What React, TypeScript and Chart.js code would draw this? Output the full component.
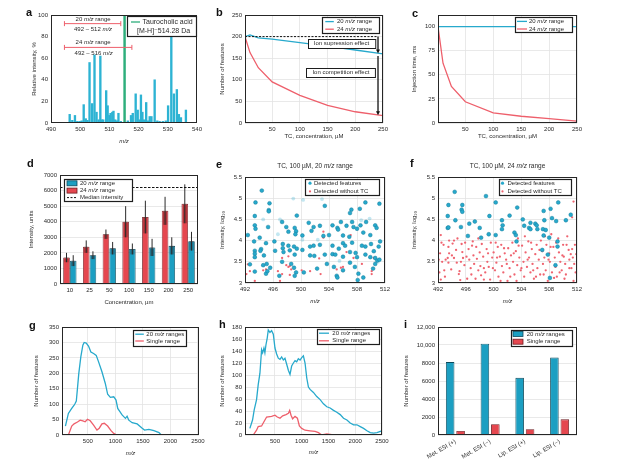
import React, { useEffect, useRef } from 'react';
import { Chart, registerables } from 'chart.js';

Chart.register(...registerables);

const FONT = "'Liberation Sans', Arial, Helvetica, 'DejaVu Sans', sans-serif";
const INK = '#2a2a2a';
const GRID = '#e3e3e3';
const CYAN = '#27a9cc';
const CYAN_BAR = '#1c9fc2';
const CYAN_EDGE = '#0c4a5c';
const RED = '#ee5f6b';
const RED_BAR = '#e5474f';
const RED_EDGE = '#6e1b20';
const GREEN = '#2eae7c';

// ---------- panel a : spectrum ----------
const A_MZ = [496.4, 497.3, 498.2, 499.0, 499.8, 500.5, 501.2, 501.9, 502.5, 503.2, 504.1, 504.9, 505.6, 506.3, 506.9, 507.4, 507.9, 508.9, 509.4, 510.0, 510.4, 511.0, 511.4, 512.0, 512.6, 513.1, 513.9, 516.3, 517.4, 518.0, 519.0, 519.7, 520.3, 520.8, 521.3, 521.8, 522.6, 523.2, 523.8, 524.4, 525.5, 526.4, 527.2, 528.3, 529.3, 530.1, 531.2, 532.1, 533.1, 533.8, 534.5, 536.2];
const A_INT = [8, 2.5, 7, 1.5, 1.5, 2, 17, 4, 2.5, 56, 18, 63, 10, 3, 62, 3, 3, 30, 16, 7, 9, 10, 11, 3, 2, 9, 1.5, 2, 7, 9, 27, 12, 3, 26, 10, 3, 19, 2, 6, 6, 40, 2, 1.5, 1.5, 2, 16, 100, 27, 31, 8, 5, 12];
const A_TC_MZ = [515.2];
const A_TC_INT = [100];
const A_RANGE20_X = [494.6, 513.9];
const A_RANGE20_Y = 92;
const A_RANGE24_X = [494.6, 517.7];
const A_RANGE24_Y = 70;
const A_XTICKS = [490, 500, 510, 520, 530, 540];
const A_YTICKS = [0, 20, 40, 60, 80, 100];
const A_NOTES = [
  { x: 504.4, y: 96.5, t: '20 m/z range' },
  { x: 504.4, y: 87.3, t: '492 – 512 m/z' },
  { x: 504.4, y: 75.6, t: '24 m/z range' },
  { x: 504.6, y: 65.2, t: '492 – 516 m/z' },
];

// ---------- panel b ----------
const B_X = [1, 10, 25, 50, 100, 150, 200, 250];
const B_20 = [200, 204, 197, 194, 186, 178, 169, 160];
const B_24 = [200, 163, 128, 95, 64, 41, 26, 17];
const B_DASH_X = [1, 241];
const B_DASH_Y = 200;
const B_ARROWS = [[241, 200, 161], [241, 155, 18]];
const B_BOXES = [
  { x: 175, y: 185, t: 'Ion supression effect' },
  { x: 174, y: 118, t: 'Ion competition effect' },
];
const BC_XTICKS = [50, 100, 150, 200, 250];
const B_YTICKS = [0, 50, 100, 150, 200, 250];

// ---------- panel c ----------
const C_X = [1, 10, 25, 50, 100, 150, 200, 250];
const C_20 = [100, 100, 100, 100, 100, 100, 100, 100];
const C_24 = [100, 62, 38, 22, 10.5, 7, 4.5, 2];
const C_YTICKS = [0, 25, 50, 75, 100];

// ---------- panel d ----------
const D_CATS = ['10', '25', '50', '100', '150', '200', '250'];
const D_24 = [1700, 2400, 3200, 4000, 4300, 4700, 5150];
const D_24_ERR = [300, 400, 300, 1000, 1050, 900, 1250];
const D_20 = [1500, 1850, 2300, 2250, 2350, 2450, 2750];
const D_20_ERR = [350, 250, 400, 350, 550, 550, 600];
const D_MEDIAN = 6200;
const D_YTICKS = [0, 1000, 2000, 3000, 4000, 5000, 6000, 7000];

// ---------- panel e ----------
const EF_XTICKS = [492, 496, 500, 504, 508, 512];
const EF_YTICKS = [3, 3.5, 4, 4.5, 5, 5.5];
const E_FEAT = [[494.4,5.18],[493.5,4.9],[495.5,4.88],[493.4,4.58],[495.4,4.72],[495.4,4.69],[499.4,4.59],[503.4,4.82],[507.2,4.73],[508.4,4.75],[509.2,4.9],[511.2,4.87],[507.0,4.65],
[493.4,4.36],[493.5,4.28],[495.3,4.32],[497.3,4.44],[497.9,4.32],[499.1,4.3],[499.3,4.22],[501.1,4.42],[501.8,4.32],[501.5,4.23],[502.7,4.35],[504.5,4.36],[505.2,4.3],[505.3,4.26],[505.7,4.44],[506.5,4.35],[507.3,4.44],[507.5,4.32],[508.0,4.28],[508.5,4.36],[509.3,4.44],[510.6,4.36],[510.8,4.3],
[492.4,4.13],[494.1,4.07],[498.2,4.21],[499.2,4.15],[500.2,4.12],[503.2,4.11],[504.0,4.13],[506.0,4.12],[506.9,4.09],[508.9,4.19],[509.9,4.13],
[493.3,3.98],[495.0,3.94],[496.2,3.98],[497.4,3.92],[498.2,3.88],[499.0,3.86],[499.4,3.81],[501.3,3.86],[501.8,3.88],[502.7,3.9],[504.5,3.88],[505.4,3.81],[506.0,3.94],[506.3,3.88],[507.3,3.95],[508.7,3.88],[509.2,3.86],[510.0,3.92],[511.1,3.86],[511.3,3.98],
[493.4,3.76],[493.4,3.69],[493.4,3.61],[494.3,3.8],[494.2,3.76],[494.7,3.65],[496.3,3.76],[497.4,3.82],[497.5,3.73],[498.4,3.77],[499.1,3.67],[500.2,3.78],[501.3,3.65],[501.9,3.64],[503.4,3.67],[504.5,3.68],[504.9,3.67],[506.0,3.62],[507.0,3.73],[507.8,3.71],[508.0,3.61],[509.2,3.67],[509.9,3.61],[510.4,3.75],[510.6,3.59],[510.9,3.53],[511.2,3.55],
[492.7,3.44],[494.6,3.42],[495.1,3.45],[495.6,3.36],[497.3,3.5],[498.6,3.45],[499.0,3.36],[499.3,3.25],[499.1,3.17],[500.4,3.25],[502.3,3.34],[503.7,3.45],[504.7,3.38],[505.1,3.17],[505.2,3.13],[506.0,3.3],[507.0,3.48],[507.7,3.38],[508.2,3.22],[508.1,3.07],[508.9,3.13],[510.3,3.34],[510.6,3.45],
[493.4,3.27],[495.0,3.22],[495.2,3.28],[496.9,3.17]];
const E_FAINT = [[498.9,4.99],[500.3,4.96],[496.7,4.15],[503.0,4.98],[509.8,4.52],[500.2,4.02],[497.0,4.5],[494.6,4.5],[511.0,3.5],[505.5,3.52],[502.4,4.02],[508.6,4.48]];
const E_NOTC = [[492.4,3.44],[492.2,3.21],[492.7,3.28],[493.4,3.05],[494.6,3.3],[495.0,3.32],[496.7,3.28],[497.0,3.05],[497.3,3.21],[498.2,3.63],[498.4,3.4],[497.9,3.42],[498.2,3.38],[498.6,3.32],[498.2,3.88],[497.3,3.59],[498.4,3.19],[500.1,3.3],[501.3,3.28],[502.8,3.21],[503.2,4.07],[503.2,4.21],[505.1,3.32],[505.7,3.36],[506.0,3.28],[506.5,3.73],[507.1,4.13],[507.5,3.59],[508.2,3.21],[508.7,3.45],[510.1,3.28],[510.1,3.21],[510.4,3.59],[506.0,3.38],[502.6,3.58]];

// ---------- panel f ----------
const F_FEAT = [[494.4,5.15],[498.9,5.05],[493.5,4.84],[495.5,4.84],[500.3,4.9],[495.4,4.73],[495.5,4.68],[503.4,4.78],[493.4,4.58],[499.4,4.58],[507.2,4.7],[508.2,4.75],[509.3,4.9],[511.1,4.61],[510.4,4.48],[494.5,4.48],[497.3,4.45],[496.5,4.4],[501.2,4.48],[502.3,4.59],[504.2,4.5],[505.3,4.42],[506.0,4.4],[507.3,4.48],[508.4,4.53],[509.0,4.46],[493.4,4.3],[493.5,4.31],[495.3,4.32],[498.0,4.3],[501.3,4.36],[501.2,4.27],[504.4,4.35],[505.1,4.3],[505.3,4.27],[506.2,4.36],[506.3,4.27],[507.1,4.27],[507.5,4.25],[496.3,4.11],[498.2,4.07],[499.3,4.15],[500.3,4.13],[503.0,4.19],[503.2,4.13],[503.3,3.98],[507.2,4.12],[508.0,4.07],[509.2,3.98],[509.2,3.86],[507.0,3.78],[507.8,3.67],[508.9,3.42],[508.1,3.12]];
const F_NOTC = [[492.4,4.13],[492.3,3.7],[492.6,3.5],[492.2,3.25],[492.9,3.3],[492.4,3.08],[493.1,3.55],[493.6,4.0],[493.5,3.85],[493.6,3.7],[493.4,3.59],[493.5,3.48],[494.1,3.93],[494.3,4.0],[494.3,3.59],[494.6,3.78],[494.7,3.48],[495.0,3.21],[495.1,3.28],[495.2,3.07],[495.4,3.92],[495.5,3.73],[495.6,3.59],[495.8,3.42],[495.9,3.95],
[496.4,3.8],[496.5,3.55],[496.7,3.35],[496.8,3.2],[497.0,3.98],[497.1,3.65],[497.2,3.45],[497.4,3.1],[497.5,3.85],[497.6,3.57],[497.8,3.3],[498.0,3.72],[498.1,3.4],[498.2,3.18],[498.3,3.92],[498.5,3.62],[498.6,3.35],[498.8,3.25],[499.0,3.8],[499.1,3.5],[499.3,3.38],[499.5,3.08],[499.6,3.95],[499.8,3.6],
[500.0,3.72],[500.2,3.3],[500.4,3.48],[500.6,3.85],[500.7,3.15],[500.9,3.62],[501.1,3.9],[501.2,3.4],[501.4,3.25],[501.6,3.7],[501.8,3.55],[502.0,3.05],[502.1,3.82],[502.3,3.35],[502.5,3.65],[502.7,3.95],[502.8,3.5],[503.0,3.2],[503.2,3.75],[503.4,3.42],[503.5,4.05],[503.7,3.6],[503.9,3.3],
[504.1,3.88],[504.3,3.5],[504.4,3.15],[504.6,3.72],[504.8,3.38],[505.0,3.98],[505.1,3.6],[505.3,3.25],[505.5,3.8],[505.6,3.45],[505.8,3.1],[506.0,3.68],[506.2,3.9],[506.3,3.35],[506.5,3.55],[506.7,3.2],[506.8,4.0],[507.0,3.75],[507.1,3.45],[507.3,3.6],[507.5,3.3],[507.6,3.9],[507.8,3.05],
[508.0,3.7],[508.1,3.5],[508.3,4.15],[508.4,3.25],[508.6,3.85],[508.8,3.6],[508.9,3.38],[509.1,3.15],[509.3,4.05],[509.4,3.72],[509.6,3.5],[509.8,3.3],[510.0,3.9],[510.1,3.62],[510.3,3.45],[510.4,3.2],[510.6,4.1],[510.8,3.78],[510.9,3.55],[511.1,3.68],[511.2,3.35],[511.4,3.6],[511.5,3.05],[511.7,3.9],[511.8,3.25],[511.5,4.92],[511.3,4.55],
[492.8,3.9],[493.0,3.15],[493.9,3.32],[494.0,3.65],[494.8,4.05],[495.3,3.5],[496.1,3.62],[496.2,3.1],[496.9,3.88],[497.8,4.05],[498.6,3.08],[499.2,3.7],[499.9,3.35],[500.3,3.95],[500.5,3.6],[501.0,3.05],[501.5,3.82],[501.9,3.45],[502.4,3.15],[502.9,3.7],[503.3,3.05],[503.6,3.88],[504.0,3.35],[504.5,4.1],[504.9,3.55],[505.4,3.95],[505.7,3.3],[506.1,3.15],[506.6,3.78],[507.2,3.2],[507.4,4.1],[507.9,3.55],[508.2,3.85],[508.7,3.12],[509.0,3.95],[509.5,3.25],[509.9,3.65],[510.2,3.1],[510.5,3.9],[510.9,3.35],[511.3,3.8],[511.6,3.45],[511.9,3.68],[492.1,3.55],[492.5,3.95]];

// ---------- panel g ----------
const G_20 = [[92,29],[146,70],[207,86],[250,97],[268,102],[290,110],[311,151],[335,199],[372,253],[409,291],[433,300],[470,298],[512,288],[555,269],[604,264],[652,258],[695,237],[756,205],[817,167],[860,132],[909,122],[970,124],[1012,113],[1043,86],[1122,65],[1183,54],[1213,61],[1244,48],[1305,40],[1396,36],[1488,22],[1530,16],[1610,18],[1701,14],[1793,8],[1835,0],[2520,0]];
const G_SINGLE = [[146,0],[207,29],[250,36],[311,42],[360,48],[409,46],[451,43],[494,51],[543,46],[604,32],[665,16],[707,22],[756,36],[799,38],[860,29],[921,14],[970,5],[1030,0],[2520,0]];
const GH_XTICKS = [500, 1000, 1500, 2000, 2500];
const G_YTICKS = [0, 50, 100, 150, 200, 250, 300, 350];

// ---------- panel h ----------
const H_20 = [[31,11],[81,25],[112,42],[156,59],[187,84],[219,103],[250,142],[269,137],[294,145],[312,137],[331,150],[356,162],[375,175],[406,171],[437,174],[469,168],[500,145],[531,135],[562,128],[594,126],[625,130],[656,125],[687,128],[719,118],[750,108],[781,101],[812,115],[844,120],[875,124],[906,122],[937,127],[969,125],[1000,129],[1031,132],[1062,120],[1094,95],[1125,80],[1156,76],[1219,71],[1281,64],[1344,59],[1406,52],[1469,47],[1531,45],[1594,41],[1656,38],[1719,34],[1781,28],[1844,25],[1906,20],[1969,17],[2031,17],[2094,14],[2156,11],[2219,7],[2281,4],[2344,3],[2406,4],[2469,6],[2500,7]];
const H_SINGLE = [[94,0],[156,8],[187,14],[250,15],[294,22],[344,30],[437,31],[500,33],[544,30],[594,28],[644,32],[706,34],[750,36],[775,41],[800,33],[830,27],[875,31],[919,28],[956,15],[1000,11],[1062,8],[1156,7],[1250,6],[1312,4],[1375,0],[1469,2],[1594,0],[2500,0]];
const H_YTICKS = [0, 20, 40, 60, 80, 100, 120, 140, 160, 180];

// ---------- panel i ----------
const I_CATS = ['Met. ESI (+)', 'Met. ESI (\u2212)', 'Lip. ESI (+)', 'Lip. ESI (\u2212)'];
const I_20 = [8100, 10150, 6350, 8600];
const I_SINGLE = [450, 1200, 650, 1750];
const I_YTICKS = [0, 2000, 4000, 6000, 8000, 10000, 12000];

// ---------- layout of the nine plot boxes ----------
const SPEC: any = {
  a: { L: 51, R: 197, T: 15, B: 123, yw: 20, xh: 22, pt: 8, pr: 12 },
  b: { L: 245, R: 383, T: 15, B: 123, yw: 26, xh: 17, pt: 8, pr: 12 },
  c: { L: 438, R: 577, T: 15, B: 123, yw: 27, xh: 17, pt: 8, pr: 12 },
  d: { L: 60, R: 198, T: 175, B: 284, yw: 32, xh: 22, pt: 8, pr: 12 },
  e: { L: 245, R: 385, T: 177, B: 283, yw: 26, xh: 22, pt: 18, pr: 12 },
  f: { L: 438, R: 577, T: 177, B: 283, yw: 27, xh: 22, pt: 18, pr: 12 },
  g: { L: 62, R: 199, T: 327, B: 435, yw: 29, xh: 22, pt: 8, pr: 12 },
  h: { L: 245, R: 382, T: 327, B: 435, yw: 26, xh: 21, pt: 8, pr: 12 },
  i: { L: 438, R: 577, T: 327, B: 435, yw: 35, xh: 32, pt: 8, pr: 12 },
};
const LETTERS: [string, number, number][] = [['a', 29, 12], ['b', 219, 12], ['c', 415, 13], ['d', 30, 163], ['e', 219, 164], ['f', 413, 163], ['g', 32, 325], ['h', 222, 324], ['i', 407, 324]];

// ---------- helpers ----------
function drawRich(ctx: any, text: string, x: number, y: number, size: number, align: string, color = INK) {
  const parts = text.split(/(m\/z)/).filter((s) => s.length);
  const fonts = parts.map((p) => `${p === 'm/z' ? 'italic ' : ''}${size}px ${FONT}`);
  const widths = parts.map((p, i) => { ctx.font = fonts[i]; return ctx.measureText(p).width; });
  const total = widths.reduce((s, w) => s + w, 0);
  let cx = align === 'center' ? x - total / 2 : align === 'right' ? x - total : x;
  ctx.textAlign = 'left';
  ctx.textBaseline = 'middle';
  ctx.fillStyle = color;
  parts.forEach((p, i) => { ctx.font = fonts[i]; ctx.fillText(p, cx, y); cx += widths[i]; });
  return total;
}

function setTicks(values: number[]) {
  return (s: any) => { s.ticks = values.map((v) => ({ value: v })); };
}

function axisX(o: any) {
  const cat = o.type === 'category';
  const ax: any = {
    type: o.type || 'linear',
    position: 'bottom',
    offset: cat,
    ticks: { padding: 3, color: INK, font: { family: FONT, size: 6 }, autoSkip: false, maxRotation: o.rot || 0, minRotation: o.rot || 0 },
    grid: { display: !!o.grid, color: GRID, lineWidth: 0.8, drawTicks: false, offset: false },
    border: { display: false },
    title: { display: !!o.title, text: o.title || '', color: INK, padding: 0, font: { family: FONT, size: 6, style: o.italic ? 'italic' : 'normal' } },
    afterFit: (s: any) => { s.height = o.h; },
  };
  if (!cat) {
    ax.min = o.min; ax.max = o.max;
    ax.ticks.callback = (v: number) => String(v);
    ax.afterBuildTicks = setTicks(o.ticks);
  }
  return ax;
}

function axisY(o: any) {
  return {
    type: 'linear',
    position: 'left',
    min: o.min, max: o.max,
    ticks: { padding: 3, color: INK, font: { family: FONT, size: 6 }, callback: o.fmt || ((v: number) => String(v)) },
    grid: { display: !!o.grid, color: GRID, lineWidth: 0.8, drawTicks: false },
    border: { display: false },
    title: { display: !!o.title, text: o.title || '', color: INK, padding: 0, font: { family: FONT, size: 6 } },
    afterBuildTicks: setTicks(o.ticks),
    afterFit: (s: any) => { s.width = o.w; },
  };
}

function baseOptions(p: any, scales: any) {
  return {
    responsive: false,
    animation: false,
    devicePixelRatio: 1,
    events: [],
    layout: { padding: { left: 0, right: p.pr, top: p.pt, bottom: 0 } },
    plugins: { legend: { display: false }, tooltip: { enabled: false }, title: { display: false } },
    scales,
  };
}

const framePlugin = {
  id: 'frame',
  afterDatasetsDraw(chart: any) {
    const { ctx, chartArea: ca } = chart;
    ctx.save();
    ctx.strokeStyle = '#262626';
    ctx.lineWidth = 1;
    ctx.strokeRect(Math.round(ca.left) + 0.5, Math.round(ca.top) + 0.5, Math.round(ca.right - ca.left) - 1, Math.round(ca.bottom - ca.top) - 1);
    ctx.restore();
  },
};

function legendPlugin(p: any) {
  return {
    id: 'boxLegend',
    afterDraw(chart: any) {
      const { ctx, chartArea: ca } = chart;
      const x0 = Math.round(p.left != null ? ca.left + p.left : ca.right - p.right - p.w);
      const y0 = Math.round(ca.top + p.top);
      ctx.save();
      ctx.fillStyle = '#ffffff';
      ctx.fillRect(x0, y0, p.w, p.h);
      ctx.strokeStyle = '#1e1e1e';
      ctx.lineWidth = 1.2;
      ctx.strokeRect(x0 + 0.5, y0 + 0.5, p.w - 1, p.h - 1);
      p.items.forEach((it: any, i: number) => {
        const cy = y0 + p.rows[i];
        const sx = x0 + p.sx;
        ctx.setLineDash([]);
        if (it.kind === 'line' || it.kind === 'dash') {
          ctx.strokeStyle = it.color;
          ctx.lineWidth = it.kind === 'dash' ? 1 : 1.3;
          if (it.kind === 'dash') ctx.setLineDash([2, 1.5]);
          ctx.beginPath(); ctx.moveTo(sx, cy); ctx.lineTo(sx + p.sw, cy); ctx.stroke();
          ctx.setLineDash([]);
        } else if (it.kind === 'box') {
          ctx.fillStyle = it.color;
          ctx.fillRect(sx, cy - 2.5, p.sw, 5);
          ctx.strokeStyle = it.edge; ctx.lineWidth = 0.8;
          ctx.strokeRect(sx, cy - 2.5, p.sw, 5);
        } else if (it.kind === 'dot') {
          ctx.fillStyle = it.color;
          ctx.beginPath(); ctx.arc(sx, cy, it.r || 1.6, 0, Math.PI * 2); ctx.fill();
        }
        drawRich(ctx, it.label, x0 + p.tx, cy, p.size, 'left');
        if (it.label2) drawRich(ctx, it.label2, x0 + p.tx2, cy + p.gap2, p.size, 'left');
      });
      ctx.restore();
    },
  };
}

function notesPlugin(notes: any[], size: number, boxed: boolean) {
  return {
    id: 'notes',
    afterDraw(chart: any) {
      const { ctx, scales } = chart;
      ctx.save();
      notes.forEach((n) => {
        const px = scales.x.getPixelForValue(n.x);
        const py = scales.y.getPixelForValue(n.y);
        if (boxed) {
          ctx.font = `${size}px ${FONT}`;
          const w = ctx.measureText(n.t).width + 12;
          const h = 9;
          const bx = Math.round(px - w / 2), by = Math.round(py - h / 2);
          ctx.fillStyle = '#ffffff'; ctx.fillRect(bx, by, w, h);
          ctx.strokeStyle = '#1e1e1e'; ctx.lineWidth = 1; ctx.strokeRect(bx + 0.5, by + 0.5, w, h);
        }
        drawRich(ctx, n.t, px, py + 0.5, size, 'center');
      });
      ctx.restore();
    },
  };
}

function arrowsPlugin(arrows: number[][]) {
  return {
    id: 'arrows',
    afterDatasetsDraw(chart: any) {
      const { ctx, scales } = chart;
      ctx.save();
      ctx.strokeStyle = '#111'; ctx.fillStyle = '#111'; ctx.lineWidth = 1.3;
      arrows.forEach(([x, y1, y2]) => {
        const px = scales.x.getPixelForValue(x);
        const p1 = scales.y.getPixelForValue(y1);
        const p2 = scales.y.getPixelForValue(y2);
        ctx.beginPath(); ctx.moveTo(px, p1); ctx.lineTo(px, p2 - 3); ctx.stroke();
        ctx.beginPath(); ctx.moveTo(px - 2, p2 - 4); ctx.lineTo(px + 2, p2 - 4); ctx.lineTo(px, p2); ctx.closePath(); ctx.fill();
      });
      ctx.restore();
    },
  };
}

function errPlugin(errs: number[][]) {
  return {
    id: 'errs',
    afterDatasetsDraw(chart: any) {
      const { ctx, scales } = chart;
      ctx.save();
      errs.forEach((arr, di) => {
        const meta = chart.getDatasetMeta(di);
        const vals = chart.data.datasets[di].data;
        meta.data.forEach((bar: any, j: number) => {
          const v = vals[j], e = arr[j];
          const yTop = scales.y.getPixelForValue(v + e);
          const yVal = scales.y.getPixelForValue(v);
          const yLow = scales.y.getPixelForValue(v - e);
          const bw = bar.width;
          ctx.fillStyle = 'rgba(40,0,0,0.28)';
          ctx.fillRect(bar.x - bw * 0.32, yVal, bw * 0.64, yLow - yVal);
          ctx.strokeStyle = '#2a2a2a'; ctx.lineWidth = 1;
          ctx.beginPath(); ctx.moveTo(bar.x, yTop); ctx.lineTo(bar.x, yLow); ctx.stroke();
        });
      });
      ctx.restore();
    },
  };
}

function hlinePlugin(value: number) {
  return {
    id: 'hline',
    afterDatasetsDraw(chart: any) {
      const { ctx, scales, chartArea: ca } = chart;
      const py = Math.round(scales.y.getPixelForValue(value)) + 0.5;
      ctx.save();
      ctx.strokeStyle = '#111'; ctx.lineWidth = 1; ctx.setLineDash([2.5, 1.5]);
      ctx.beginPath(); ctx.moveTo(ca.left, py); ctx.lineTo(ca.right, py); ctx.stroke();
      ctx.restore();
    },
  };
}

function titlePlugin(text: string) {
  return {
    id: 'ptitle',
    afterDraw(chart: any) {
      const { ctx, chartArea: ca } = chart;
      ctx.save();
      drawRich(ctx, text, (ca.left + ca.right) / 2, ca.top - 10.5, 6.5, 'center');
      ctx.restore();
    },
  };
}

const lineDs = (pts: number[][], color: string, extra: any = {}) => ({
  type: 'line',
  data: pts.map(([x, y]) => ({ x, y })),
  borderColor: color,
  borderWidth: 1.2,
  pointRadius: 0,
  tension: 0,
  fill: false,
  ...extra,
});
const zip = (xs: number[], ys: number[]) => xs.map((x, i) => [x, ys[i]]);

// ---------- chart configs ----------
function makeA(p: any) {
  return {
    type: 'bar',
    data: {
      datasets: [
        lineDs(A_RANGE20_X.map((x) => [x, A_RANGE20_Y]), RED, { borderWidth: 1, pointStyle: 'line', pointRadius: 2.5, pointRotation: 90, pointBorderColor: RED, pointBorderWidth: 1 }),
        lineDs(A_RANGE24_X.map((x) => [x, A_RANGE24_Y]), RED, { borderWidth: 1, pointStyle: 'line', pointRadius: 2.5, pointRotation: 90, pointBorderColor: RED, pointBorderWidth: 1 }),
        { type: 'bar', data: A_TC_MZ.map((x, i) => ({ x, y: A_TC_INT[i] })), backgroundColor: GREEN, barThickness: 1.8, grouped: false },
        { type: 'bar', data: A_MZ.map((x, i) => ({ x, y: A_INT[i] })), backgroundColor: '#2db3d3', barThickness: 1.7, grouped: false },
      ],
    },
    options: baseOptions(p, {
      x: axisX({ min: 490, max: 540, ticks: A_XTICKS, title: 'm/z', italic: true, grid: false, h: p.xh }),
      y: axisY({ min: 0, max: 100, ticks: A_YTICKS, title: 'Relative intensity, %', grid: false, w: p.yw }),
    }),
    plugins: [
      framePlugin,
      notesPlugin(A_NOTES, 6, false),
      legendPlugin({ right: 0, top: 1, w: 70, h: 21, rows: [6], sx: 4, sw: 9, tx: 15.5, tx2: 10, gap2: 9.5, size: 7, items: [{ kind: 'line', color: GREEN, label: 'Taurocholic acid', label2: '[M-H]\u207B514.28 Da' }] }),
    ],
  };
}

function makeB(p: any) {
  return {
    type: 'line',
    data: {
      datasets: [
        lineDs(B_DASH_X.map((x) => [x, B_DASH_Y]), '#111', { borderWidth: 1, borderDash: [2, 1.5] }),
        lineDs(zip(B_X, B_20), CYAN, { borderWidth: 1.3 }),
        lineDs(zip(B_X, B_24), RED, { borderWidth: 1.3 }),
      ],
    },
    options: baseOptions(p, {
      x: axisX({ min: 1, max: 250, ticks: BC_XTICKS, title: 'TC, concentration, \u00B5M', grid: true, h: p.xh }),
      y: axisY({ min: 0, max: 250, ticks: B_YTICKS, title: 'Number of features', grid: true, w: p.yw }),
    }),
    plugins: [
      framePlugin,
      arrowsPlugin(B_ARROWS),
      notesPlugin(B_BOXES, 6, true),
      legendPlugin({ right: 3, top: 2, w: 58, h: 17, rows: [4.6, 12.2], sx: 3.3, sw: 8.5, tx: 15, size: 6, items: [
        { kind: 'line', color: CYAN, label: '20 m/z range' },
        { kind: 'line', color: RED, label: '24 m/z range' },
      ] }),
    ],
  };
}

function makeC(p: any) {
  return {
    type: 'line',
    data: {
      datasets: [
        lineDs(zip(C_X, C_20), CYAN, { borderWidth: 1.3 }),
        lineDs(zip(C_X, C_24), RED, { borderWidth: 1.3 }),
      ],
    },
    options: baseOptions(p, {
      x: axisX({ min: 1, max: 250, ticks: BC_XTICKS, title: 'TC, concentration, \u00B5M', grid: true, h: p.xh }),
      y: axisY({ min: 0, max: 112, ticks: C_YTICKS, title: 'Injection time, ms', grid: true, w: p.yw }),
    }),
    plugins: [
      framePlugin,
      legendPlugin({ right: 4, top: 2, w: 58, h: 16, rows: [4.4, 12], sx: 2, sw: 10, tx: 14, size: 6, items: [
        { kind: 'line', color: CYAN, label: '20 m/z range' },
        { kind: 'line', color: RED, label: '24 m/z range' },
      ] }),
    ],
  };
}

function makeD(p: any) {
  return {
    type: 'bar',
    data: {
      labels: D_CATS,
      datasets: [
        { data: D_24, backgroundColor: RED_BAR, borderColor: RED_EDGE, borderWidth: 0.8, categoryPercentage: 0.68, barPercentage: 0.98 },
        { data: D_20, backgroundColor: CYAN_BAR, borderColor: CYAN_EDGE, borderWidth: 0.8, categoryPercentage: 0.68, barPercentage: 0.98 },
      ],
    },
    options: baseOptions(p, {
      x: axisX({ type: 'category', title: 'Concentration, \u00B5m', grid: false, h: p.xh }),
      y: axisY({ min: 0, max: 7000, ticks: D_YTICKS, title: 'Intensity, units', grid: true, w: p.yw }),
    }),
    plugins: [
      errPlugin([D_24_ERR, D_20_ERR]),
      hlinePlugin(D_MEDIAN),
      framePlugin,
      legendPlugin({ left: 4, top: 4, w: 69, h: 23, rows: [4.3, 11.6, 18.6], sx: 3, sw: 10, tx: 16, size: 6, items: [
        { kind: 'box', color: CYAN_BAR, edge: CYAN_EDGE, label: '20 m/z range' },
        { kind: 'box', color: RED_BAR, edge: RED_EDGE, label: '24 m/z range' },
        { kind: 'dash', color: '#111', label: 'Median intensity' },
      ] }),
    ],
  };
}

function scatterConfig(p: any, feat: number[][], faint: number[][], notc: number[][], title: string, legendOpts: any) {
  return {
    type: 'scatter',
    data: {
      datasets: [
        { data: feat.map(([x, y]) => ({ x, y })), backgroundColor: CYAN, borderColor: '#147f9c', borderWidth: 0.5, pointRadius: 1.9 },
        { data: faint.map(([x, y]) => ({ x, y })), backgroundColor: 'rgba(39,169,204,0.28)', borderWidth: 0, pointRadius: 1.9 },
        { data: notc.map(([x, y]) => ({ x, y })), backgroundColor: '#ef6470', borderWidth: 0, pointRadius: 1.15 },
      ],
    },
    options: baseOptions(p, {
      x: axisX({ min: 492, max: 512, ticks: EF_XTICKS, title: 'm/z', italic: true, grid: true, h: p.xh }),
      y: axisY({ min: 3, max: 5.5, ticks: EF_YTICKS, title: 'Intensity, log\u2081\u2080', grid: true, w: p.yw }),
    }),
    plugins: [
      framePlugin,
      titlePlugin(title),
      legendPlugin({ ...legendOpts, top: 2, h: 17, rows: [4.2, 12.4], sw: 0, size: 6, items: [
        { kind: 'dot', color: CYAN, label: 'Detected features' },
        { kind: 'dot', color: '#ef6470', r: 1.1, label: 'Detected without TC' },
      ] }),
    ],
  };
}

function makeE(p: any) {
  return scatterConfig(p, E_FEAT, E_FAINT, E_NOTC, 'TC, 100 \u00B5M, 20 m/z range', { right: 5, w: 75, sx: 5, tx: 9 });
}
function makeF(p: any) {
  return scatterConfig(p, F_FEAT, [], F_NOTC, 'TC, 100 \u00B5M, 24 m/z range', { right: 5, w: 73, sx: 3.5, tx: 8.5 });
}

function makeG(p: any) {
  return {
    type: 'line',
    data: { datasets: [lineDs(G_20, CYAN, { borderWidth: 1.3 }), lineDs(G_SINGLE, RED, { borderWidth: 1.3 })] },
    options: baseOptions(p, {
      x: axisX({ min: 30, max: 2520, ticks: GH_XTICKS, title: 'm/z', italic: true, grid: true, h: p.xh }),
      y: axisY({ min: 0, max: 350, ticks: G_YTICKS, title: 'Number of features', grid: true, w: p.yw }),
    }),
    plugins: [
      framePlugin,
      legendPlugin({ right: 12, top: 3, w: 54, h: 17, rows: [4.2, 11], sx: 2.3, sw: 8.5, tx: 13.3, size: 6, items: [
        { kind: 'line', color: CYAN, label: '20 m/z ranges' },
        { kind: 'line', color: RED, label: 'Single range' },
      ] }),
    ],
  };
}

function makeH(p: any) {
  return {
    type: 'line',
    data: { datasets: [lineDs(H_20, CYAN, { borderWidth: 1.3 }), lineDs(H_SINGLE, RED, { borderWidth: 1.3 })] },
    options: baseOptions(p, {
      x: axisX({ min: -60, max: 2500, ticks: GH_XTICKS, title: 'm/z', italic: true, grid: true, h: p.xh }),
      y: axisY({ min: 0, max: 180, ticks: H_YTICKS, title: 'Number of features', grid: true, w: p.yw }),
    }),
    plugins: [
      framePlugin,
      legendPlugin({ right: 2, top: 2, w: 63, h: 16, rows: [4.2, 11.8], sx: 2, sw: 10, tx: 15.3, size: 6, items: [
        { kind: 'line', color: CYAN, label: '20 m/z ranges' },
        { kind: 'line', color: RED, label: 'Single range' },
      ] }),
    ],
  };
}

function makeI(p: any) {
  return {
    type: 'bar',
    data: {
      labels: I_CATS,
      datasets: [
        { data: I_20, backgroundColor: CYAN_BAR, borderColor: CYAN_EDGE, borderWidth: 0.9, categoryPercentage: 0.6, barPercentage: 0.82 },
        { data: I_SINGLE, backgroundColor: RED_BAR, borderColor: RED_EDGE, borderWidth: 0.9, categoryPercentage: 0.6, barPercentage: 0.82 },
      ],
    },
    options: baseOptions(p, {
      x: axisX({ type: 'category', grid: false, h: p.xh, rot: 30 }),
      y: axisY({ min: 0, max: 12000, ticks: I_YTICKS, title: 'Number of features', grid: true, w: p.yw, fmt: (v: number) => (v >= 10000 ? v.toLocaleString('en-US') : String(v)) }),
    }),
    plugins: [
      framePlugin,
      legendPlugin({ right: 4, top: 3, w: 62, h: 17, rows: [4, 11.7], sx: 2, sw: 10, tx: 15.7, size: 6, items: [
        { kind: 'box', color: CYAN_BAR, edge: CYAN_EDGE, label: '20 m/z ranges' },
        { kind: 'box', color: RED_BAR, edge: RED_EDGE, label: 'Single range' },
      ] }),
    ],
  };
}

const MAKERS: any = { a: makeA, b: makeB, c: makeC, d: makeD, e: makeE, f: makeF, g: makeG, h: makeH, i: makeI };

function Panel({ name }: { name: string }) {
  const ref = useRef<HTMLCanvasElement | null>(null);
  const p = SPEC[name];
  const w = p.R - p.L + p.yw + p.pr;
  const h = p.B - p.T + p.pt + p.xh;
  useEffect(() => {
    if (!ref.current) return;
    const chart = new Chart(ref.current, MAKERS[name](p));
    return () => chart.destroy();
  }, [name]);
  return (
    <canvas
      ref={ref}
      width={w}
      height={h}
      style={{ position: 'absolute', left: p.L - p.yw, top: p.T - p.pt, width: w, height: h }}
    />
  );
}

export default function App() {
  return (
    <div style={{ position: 'absolute', left: 0, top: 0, width: 617, height: 467, background: '#ffffff', overflow: 'hidden' }}>
      {Object.keys(SPEC).map((k) => (
        <Panel key={k} name={k} />
      ))}
      {LETTERS.map(([t, x, y]) => (
        <div
          key={t}
          style={{ position: 'absolute', left: x - 3, top: y - 6, font: `bold 11px ${FONT}`, lineHeight: '12px', color: '#111' }}
        >
          {t}
        </div>
      ))}
    </div>
  );
}
